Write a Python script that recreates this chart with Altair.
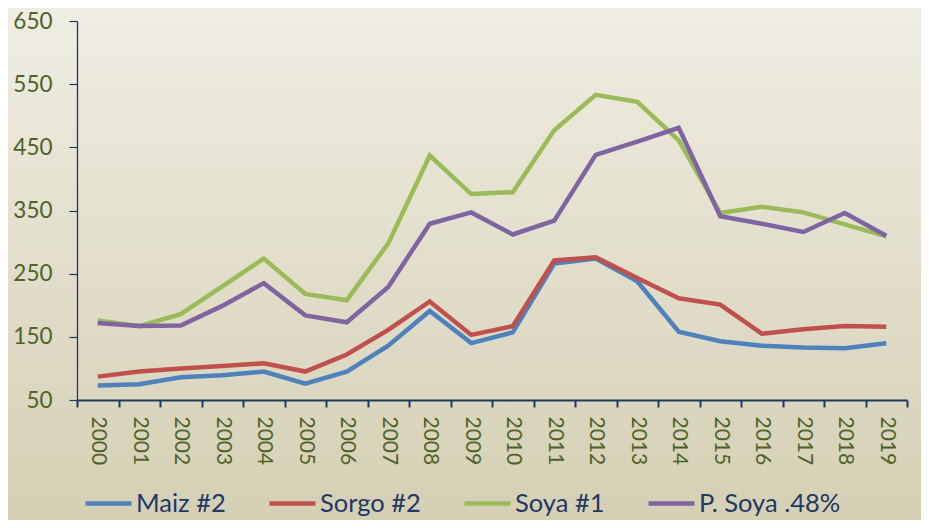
import altair as alt
import pandas as pd

years = [str(y) for y in range(2000, 2020)]
maiz = [73, 75, 86, 89, 95, 76, 95, 136, 191, 140, 157, 266, 274, 238, 158, 143, 136, 133, 132, 140]
sorgo = [87, 95, 100, 104, 108, 95, 122, 161, 206, 153, 167, 271, 276, 243, 211, 201, 155, 162, 167, 166]
soya = [176, 167, 186, 230, 274, 218, 208, 298, 437, 376, 379, 477, 533, 522, 461, 346, 356, 347, 328, 309]
psoya = [172, 167, 168, 199, 235, 184, 173, 229, 329, 347, 312, 334, 438, 459, 481, 341, 329, 316, 346, 310]

series_names = ["Maiz #2", "Sorgo #2", "Soya #1", "P. Soya .48%"]
series_vals = [maiz, sorgo, soya, psoya]
series_colors = ["#4F81BD", "#C0504D", "#9BBB59", "#8064A2"]
y_ticks = [50, 150, 250, 350, 450, 550, 650]

rows = []
for k, (name, vals) in enumerate(zip(series_names, series_vals)):
    for yr, v in zip(years, vals):
        rows.append({"year": yr, "value": v, "serie": name, "k": k})
df = pd.DataFrame(rows)

W, H = 830, 379
PAD = {"left": 69, "top": 13, "right": 14, "bottom": 120}
FONT = "Lato"

bg = alt.Chart(pd.DataFrame({"a": [0]})).mark_rect(
    clip=False,
    color=alt.LinearGradient(
        gradient="linear",
        stops=[alt.GradientStop(offset=0, color="#EFEDE3"),
               alt.GradientStop(offset=1, color="#D5CFB4")],
        x1=0, x2=0, y1=0, y2=1,
    ),
).encode(
    x=alt.value(-PAD["left"]), x2=alt.value(W + PAD["right"]),
    y=alt.value(-PAD["top"]), y2=alt.value(H + PAD["bottom"]),
)

lines = alt.Chart(df).mark_line(strokeWidth=4.5).encode(
    x=alt.X("year:O", bandPosition=0.5,
            scale=alt.Scale(type="band", domain=years, paddingInner=0, paddingOuter=0),
            axis=alt.Axis(title=None, labelAngle=90, labelAlign="left", labelBaseline="middle",
                          tickBand="extent", tickSize=7, tickWidth=2, domainWidth=2.2,
                          labelPadding=9, labelFontSize=21, zindex=1)),
    y=alt.Y("value:Q",
            scale=alt.Scale(domain=[50, 650], nice=False, zero=False),
            axis=alt.Axis(title=None, values=y_ticks, tickSize=8, tickWidth=1.2, domainWidth=1.3,
                          labelPadding=17, labelFontSize=22.5, grid=False, zindex=1)),
    color=alt.Color("serie:N",
                    scale=alt.Scale(domain=series_names, range=series_colors),
                    legend=alt.Legend(title=None, orient="none", direction="horizontal",
                                      legendX=6, legendY=457, symbolType="stroke",
                                      symbolSize=2116, symbolStrokeWidth=4.5,
                                      labelFontSize=25.5, labelFont=FONT, labelColor="#1F3864",
                                      labelOffset=2, columnPadding=34, labelLimit=400,
                                      padding=0, columns=4)),
    order=alt.Order("k:Q"),
    detail="serie:N",
)

chart = alt.layer(bg, lines).properties(
    width=W, height=H,
    autosize=alt.AutoSizeParams(type="none"),
    padding=PAD,
    background="#E3DFCC",
).configure_view(stroke=None).configure_axis(
    labelFont=FONT, labelColor="#4F6228", domainColor="#1F3864", tickColor="#1F3864",
    grid=False,
)

chart.save("out.html", embed_options={"renderer": "svg", "actions": False})
